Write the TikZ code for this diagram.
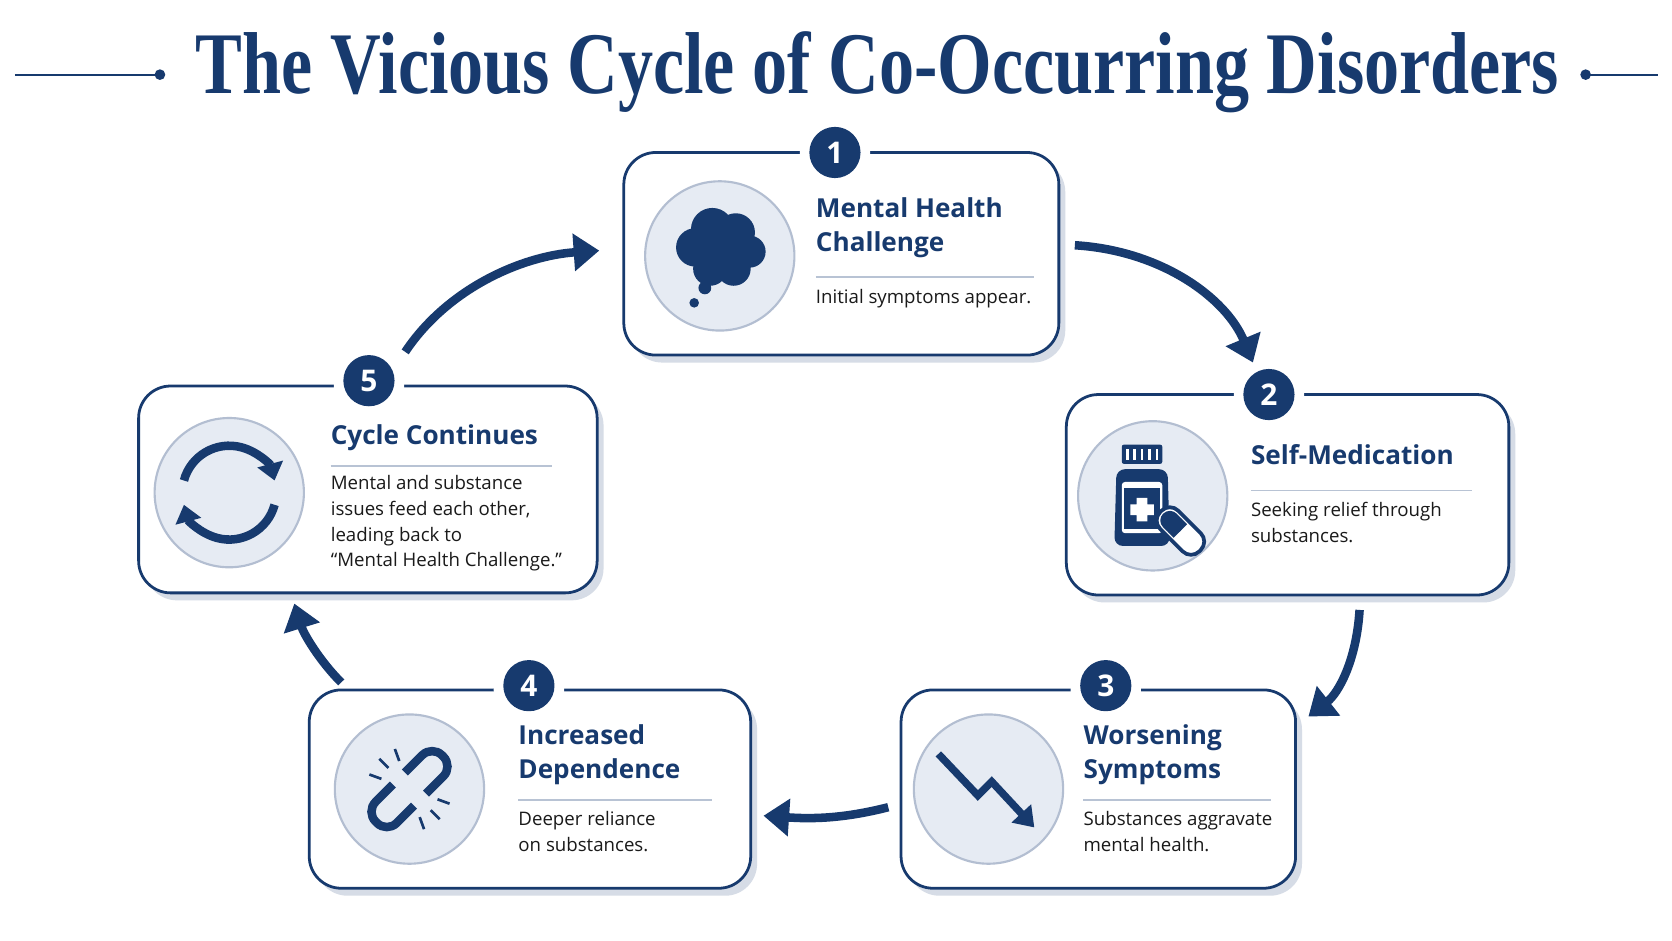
\documentclass[tikz,border=0pt]{standalone}
\usepackage{fontspec}
\setmainfont{Open Sans}
\newfontfamily\titlefont{Liberation Serif}
\usetikzlibrary{arrows.meta,calc}
\definecolor{navy}{HTML}{173A6E}
\definecolor{cfill}{HTML}{E6EBF3}
\definecolor{cstroke}{HTML}{B3BED1}
\definecolor{rule}{HTML}{B8C3D4}
\definecolor{shadow}{HTML}{D6DCE6}
\definecolor{txt}{HTML}{1A1A1A}
\tikzset{
 card/.style={draw=navy,line width=2.6pt,fill=white,rounded corners=30pt},
 cshadow/.style={fill=shadow,rounded corners=30pt},
 iconc/.style={circle,draw=cstroke,line width=2pt,fill=cfill,minimum size=140pt},
 badge/.style={circle,fill=navy,text=white,minimum size=48pt,inner sep=0pt,font=\fontsize{28}{28}\selectfont\bfseries},
 ttl/.style={anchor=north west,align=left,text=navy,inner sep=0pt,font=\fontsize{24.5}{32}\selectfont\bfseries},
 dsc/.style={anchor=north west,align=left,text=txt,inner sep=0pt,font=\fontsize{17.5}{24}\selectfont},
 flow/.style={draw=navy,line width=8pt,-{Triangle[length=24pt,width=34pt]}},
 rl/.style={draw=rule,line width=1.6pt},
}
\newcommand{\card}[5]{%
 \fill[cshadow] (#1+6,#2+7) rectangle (#3+6,#4+7);
 \draw[card] (#1,#2) rectangle (#3,#4);
 \fill[white] (#5,#2) circle (33);
}
\begin{document}
\begin{tikzpicture}[x=1pt,y=-1pt]
\useasboundingbox (0,0) rectangle (1568,882);
\fill[white] (0,0) rectangle (1568,882);
% title
\node[text=navy,inner sep=0pt] (title) at (823,68) {\resizebox{1278pt}{58pt}{\titlefont\bfseries The Vicious Cycle of Co-Occurring Disorders}};
\coordinate (tl1) at (14,70); \coordinate (tl2) at (150,70);
\coordinate (tr1) at (1487,70); \coordinate (tr2) at (1555,70);
\draw[navy,line width=2pt] (tl1) -- (tl2); \fill[navy] (tl2) circle (5);
\draw[navy,line width=2pt] (tr1) -- (tr2); \fill[navy] (tr1) circle (5);

% cards
\card{585}{143}{993}{333}{783}
\card{1000}{370}{1415}{558}{1190}
\card{845}{647}{1215}{833}{1037}
\card{290}{647}{704}{833}{496}
\card{130}{362}{560}{556}{346}
\node[badge] (b1) at (783,143) {1};
\node[badge] (b2) at (1190,370) {2};
\node[badge] (b3) at (1037,643) {3};
\node[badge] (b4) at (496,643) {4};
\node[badge] (b5) at (346,357) {5};

% icon circles
\node[iconc] (i1) at (675,240) {};
\node[iconc] (i2) at (1081,465) {};
\node[iconc] (i3) at (927,740) {};
\node[iconc] (i4) at (384,740) {};
\node[iconc] (i5) at (215,462) {};

% texts
\node[ttl] (t1) at (765,185) {Mental Health\\Challenge};
\draw[rl] (765,260) -- (970,260);
\node[dsc] (d1) at (765,271) {Initial symptoms appear.};

\node[ttl] (t2) at (1173,417) {Self-Medication};
\draw[rl] (1173,460) -- (1380,460);
\node[dsc] (d2) at (1173,471) {Seeking relief through\\substances.};

\node[ttl] (t3) at (1016,679) {Worsening\\Symptoms};
\draw[rl] (1016,750) -- (1192,750);
\node[dsc] (d3) at (1016,761) {Substances aggravate\\mental health.};

\node[ttl] (t4) at (486,679) {Increased\\Dependence};
\draw[rl] (486,750) -- (668,750);
\node[dsc] (d4) at (486,761) {Deeper reliance\\on substances.};

\node[ttl] (t5) at (310,398) {Cycle Continues};
\draw[rl] (310,437) -- (518,437);
\node[dsc] (d5) at (310,446) {Mental and substance\\issues feed each other,\\leading back to\\“Mental Health Challenge.”};

% icon 1: cloud
\fill[navy] (652,232) circle (18) (668,215) circle (20) (690,218) circle (18) (703,236) circle (15) (688,252) circle (16) (666,252) circle (16) (675,235) circle (20);
\fill[navy] (661,270) circle (6) (651,284) circle (4.5);

% icon 2: bottle and pill
\fill[navy,rounded corners=2pt] (1052,417) rectangle (1090,435);
\foreach \k in {1057,1064,1071,1078,1085} \fill[white] (\k-1.3,421) rectangle (\k+1.3,431);
\fill[navy,rounded corners=8pt] (1047,440) -- (1095,440) -- (1097,512) -- (1045,512) -- cycle;
\fill[white,rounded corners=3pt] (1052,452) rectangle (1090,500);
\fill[navy] (1054,458) rectangle (1088,496);
\fill[white] (1066,467) rectangle (1076,489) (1060,473) rectangle (1082,483);
\begin{scope}[shift={(1107,498)},rotate=-45]
\draw[navy,line width=3.5pt,fill=white,rounded corners=11pt] (-26,-12) rectangle (26,12);
\fill[navy,rounded corners=9pt] (-23,-9) rectangle (0,9);
\fill[navy] (-8,-9) rectangle (0,9);
\end{scope}

% icon 3: zigzag arrow
\draw[navy,line width=7pt,-{Triangle[length=18pt,width=24pt]}] (880,707) -- (917,746) -- (930,733) -- (970,776);

% icon 4: broken chain
\begin{scope}[shift={(384,740)},rotate=45]
\draw[navy,line width=8pt,rounded corners=13pt] (-8,-14) -- (-44,-14) -- (-44,14) -- (-8,14);
\draw[navy,line width=8pt,rounded corners=13pt] (8,-14) -- (44,-14) -- (44,14) -- (8,14);
\end{scope}
\foreach \a in {200,225,250,20,45,70} \draw[navy,line width=2.5pt] ($(384,740)+(\a:28)$) -- ($(384,740)+(\a:40)$);

% icon 5: cycle arrows
\draw[navy,line width=8pt,-{Triangle[length=16pt,width=24pt]}] (215,462) ++(195:44) arc (195:345:44);
\draw[navy,line width=8pt,-{Triangle[length=16pt,width=24pt]}] (215,462) ++(15:44) arc (15:165:44);

% flow arrows
\coordinate (a1s) at (1008,230); \coordinate (a1e) at (1175,340);
\draw[flow] (a1s) .. controls (1090,235) and (1150,280) .. (a1e);
\coordinate (a2s) at (1275,572); \coordinate (a2e) at (1227,672);
\draw[flow] (a2s) .. controls (1272,620) and (1255,650) .. (a2e);
\coordinate (a3s) at (833,757); \coordinate (a3e) at (716,765);
\draw[flow] (a3s) .. controls (790,768) and (760,768) .. (a3e);
\coordinate (a4s) at (320,640); \coordinate (a4e) at (276,566);
\draw[flow] (a4s) .. controls (300,620) and (285,595) .. (a4e);
\coordinate (a5s) at (380,330); \coordinate (a5e) at (562,235);
\draw[flow] (a5s) .. controls (420,270) and (490,240) .. (a5e);
\end{tikzpicture}
\end{document}
